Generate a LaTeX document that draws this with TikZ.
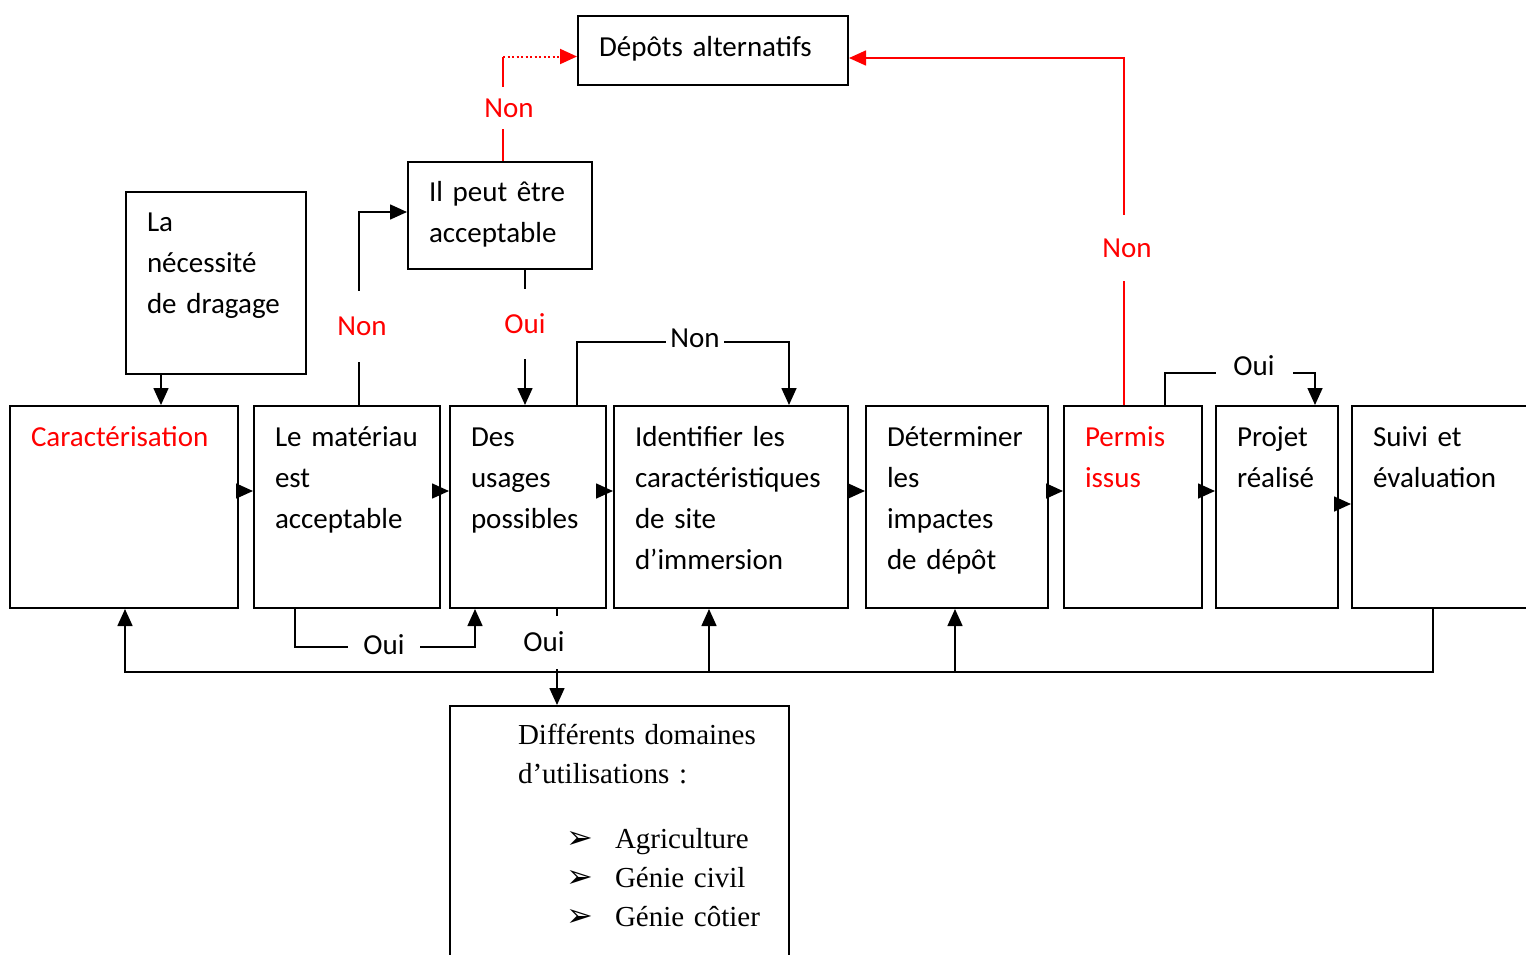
\documentclass[tikz,border=0pt]{standalone}
\usepackage{fontspec}
\setmainfont{Carlito}
\newfontfamily\timesfont{Liberation Serif}
\newfontfamily\symbfont{DejaVu Sans}
\usetikzlibrary{arrows.meta}

\begin{document}
\begin{tikzpicture}[x=1pt, y=-1pt,
    every node/.style={font=\fontsize{29}{41}\selectfont},
    stage/.style={draw, line width=2pt, anchor=north west, inner xsep=21pt,
      inner ysep=0pt, align=left, text height=40pt, text depth=162pt},
    arr/.style={line width=1.6pt, -{Triangle[length=17pt,width=15pt]}},
    redarr/.style={arr, red},
    lab/.style={fill=white, inner sep=0pt}]
  \useasboundingbox (0,0) rectangle (1526,954);

  %Main row
  \node[stage, text width=186pt, text=red] (car) at (9,405) {Caractérisation};
  \node[stage, text width=144pt] (mat) at (253,405) {Le matériau\\est\\acceptable};
  \node[stage, text width=114pt] (usa) at (449,405) {Des\\usages\\possibles};
  \node[stage, text width=192pt] (ide) at (613,405) {Identifier les\\caractéristiques\\de site\\d’immersion};
  \node[stage, text width=140pt] (det) at (865,405) {Déterminer\\les\\impactes\\de dépôt};
  \node[stage, text width=96pt, text=red] (per) at (1063,405) {Permis\\issus};
  \node[stage, text width=80pt] (pro) at (1215,405) {Projet\\réalisé};
  \node[stage, text width=143pt] (sui) at (1351,405) {Suivi et\\évaluation};

  %Other boxes
  \node[stage, text width=138pt, text height=39pt, text depth=143pt] (nec) at (125,191) {La\\nécessité\\de dragage};
  \node[stage, text width=142pt, text height=39pt, text depth=68pt] (peu) at (407,161) {Il peut être\\acceptable};
  \node[stage, text width=228pt, text depth=29pt] (dep) at (577,15) {Dépôts alternatifs};
  \node[stage, text width=297pt, text height=38pt, text depth=230pt,
    font=\timesfont\fontsize{29}{39}\selectfont] (dom) at (449,705) {%
    \hspace*{47pt}Différents domaines\\
    \hspace*{47pt}d’utilisations :\\[26pt]
    \hspace*{95pt}\makebox[49pt][l]{\symbfont\fontsize{32}{32}\selectfont ➢}Agriculture\\
    \hspace*{95pt}\makebox[49pt][l]{\symbfont\fontsize{32}{32}\selectfont ➢}Génie civil\\
    \hspace*{95pt}\makebox[49pt][l]{\symbfont\fontsize{32}{32}\selectfont ➢}Génie côtier};

  %Row arrows
  \foreach \a/\b in {car/mat, mat/usa, usa/ide, ide/det, det/per, per/pro}
    \draw[arr] ([yshift=16pt]\a.east) -- ([yshift=16pt]\b.west);
  \draw[arr] ([yshift=3pt]pro.east) -- ([yshift=3pt]sui.west);

  %Upper connectors
  \draw[arr] ([xshift=36pt]nec.south west) -- ([xshift=152pt]car.north west);
  \draw[arr] ([xshift=106pt]mat.north west) |- ([yshift=-51pt]peu.north west);
  \draw[arr] ([xshift=118pt]peu.south west) -- ([xshift=76pt]usa.north west);
  \draw[arr] ([xshift=128pt]usa.north west) -- ++(0,-63) -| ([xshift=176pt]ide.north west);
  \draw[arr] ([xshift=102pt]per.north west) -- ++(0,-32) -| ([xshift=100pt]pro.north west);

  %Red connectors
  \path ([xshift=96pt]peu.north west) coordinate (pa) ([yshift=-6pt]dep.west) coordinate (pb);
  \draw[red, line width=1.8pt] (pa) -- (pa |- pb);
  \draw[redarr, line width=2pt, dash pattern=on 2pt off 2.5pt] (pa |- pb) -- (pb);
  \draw[redarr] ([xshift=61pt]per.north west) |- ([yshift=-7.5pt]dep.east);

  %Lower connectors
  \draw[arr] ([xshift=42pt]mat.south west) -- ++(0,38) -| ([xshift=26pt]usa.south west);
  \draw[arr] ([xshift=108pt]usa.south west) -- ([xshift=108pt]dom.north west);
  \draw[arr] ([xshift=82pt]sui.south west) -- ++(0,63) -| ([xshift=116pt]car.south west);
  \draw[arr] ([xshift=96pt, yshift=-63pt]ide.south west) -- ([xshift=96pt]ide.south west);
  \draw[arr] ([xshift=90pt, yshift=-63pt]det.south west) -- ([xshift=90pt]det.south west);

  %Labels
  \node[lab, text=red, minimum width=50pt, minimum height=71pt] (nonmat) at (362,326) {Non};
  \node[lab, text=red, minimum width=46pt, minimum height=70pt] (ouipeu) at (525,324) {Oui};
  \node[lab, text=red, minimum width=50pt, minimum height=42pt] (nonpeu) at (509,108) {Non};
  \node[lab, text=red, minimum width=50pt, minimum height=66pt] (nonper) at (1127,248) {Non};
  \node[lab, minimum width=58pt, minimum height=30pt] (nonusa) at (695,338) {Non};
  \node[lab, minimum width=77pt, minimum height=30pt] (ouiper) at (1254,366) {Oui};
  \node[lab, minimum width=72pt, minimum height=30pt] (ouimat) at (384,645) {Oui};
  \node[lab, minimum width=45pt, minimum height=53pt] (ouiusa) at (544,642) {Oui};
\end{tikzpicture}
\end{document}
